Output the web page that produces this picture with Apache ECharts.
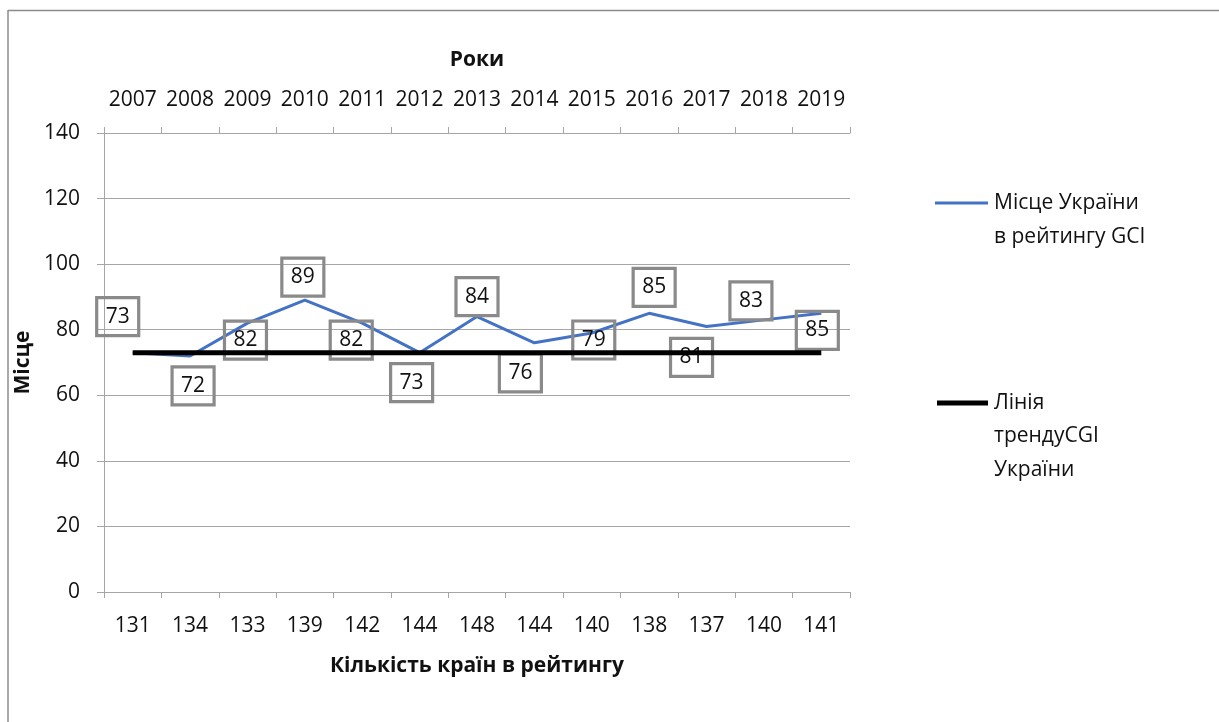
<!DOCTYPE html>
<html>
<head>
<meta charset="utf-8">
<script src="https://cdn.jsdelivr.net/npm/echarts@6/dist/echarts.min.js"></script>
<style>
  html, body { margin: 0; padding: 0; background: #fff; }
  #chart { width: 1219px; height: 722px; }
</style>
</head>
<body>
<div id="chart"></div>
<script>
// Years of the GCI rating (top axis)
const years = ['2007', '2008', '2009', '2010', '2011', '2012', '2013',
               '2014', '2015', '2016', '2017', '2018', '2019'];
// Number of countries in the rating (bottom axis)
const countryCounts = ['131', '134', '133', '139', '142', '144', '148',
                       '144', '140', '138', '137', '140', '141'];
// Ukraine's place in the GCI rating
const ukrainePlace = [73, 72, 82, 89, 82, 73, 84, 76, 79, 85, 81, 83, 85];
// Trend line level
const trendLevel = [73, 73, 73, 73, 73, 73, 73, 73, 73, 73, 73, 73, 73];
// Y axis ticks
const yTicks = [0, 20, 40, 60, 80, 100, 120, 140];

// Label box offsets from each point (px)
const labelOffsets = [[-15, -36], [3, 30], [-2, 17], [-2, -23], [-11, 17], [-8, 30],
                      [0, -20], [-14, 30], [2, 7], [5, -26], [-15, 31], [-13, -19], [-4, 17]];

const FONT = '"Open Sans", "Noto Sans", sans-serif';
const GRID = '#a6a6a6';
const TEXT = '#111';

const chart = echarts.init(document.getElementById('chart'), null, { renderer: 'canvas' });

const option = {
  backgroundColor: '#fff',
  animation: false,
  textStyle: { fontFamily: FONT },
  grid: { left: 104, right: 369, top: 133, bottom: 130 },
  xAxis: [
    {
      type: 'category',
      position: 'bottom',
      data: countryCounts,
      boundaryGap: true,
      name: 'Кількість країн в рейтингу',
      nameLocation: 'middle',
      nameGap: 64,
      nameTextStyle: { fontFamily: FONT, fontSize: 21, fontWeight: 'bold', color: TEXT },
      axisLine: { show: true, lineStyle: { color: GRID, width: 1 } },
      axisTick: { show: true, alignWithLabel: false, length: 6, lineStyle: { color: GRID } },
      axisLabel: { interval: 0, margin: 24, fontFamily: FONT, fontSize: 21, color: TEXT },
      splitLine: { show: false }
    },
    {
      type: 'category',
      position: 'top',
      data: years,
      boundaryGap: true,
      name: 'Роки',
      nameLocation: 'middle',
      nameGap: 62,
      nameTextStyle: { fontFamily: FONT, fontSize: 21, fontWeight: 'bold', color: TEXT },
      axisLine: { show: true, lineStyle: { color: GRID, width: 1 } },
      axisTick: { show: true, alignWithLabel: false, length: 6, lineStyle: { color: GRID } },
      axisLabel: { interval: 0, margin: 22, fontFamily: FONT, fontSize: 21, color: TEXT },
      splitLine: { show: false }
    }
  ],
  yAxis: {
    type: 'value',
    min: yTicks[0],
    max: yTicks[yTicks.length - 1],
    interval: yTicks[1] - yTicks[0],
    name: 'Місце',
    nameLocation: 'middle',
    nameGap: 63,
    nameRotate: 90,
    nameTextStyle: { fontFamily: FONT, fontSize: 21, fontWeight: 'bold', color: TEXT },
    axisLine: { show: true, lineStyle: { color: GRID, width: 1 } },
    axisTick: { show: true, length: 7, lineStyle: { color: GRID } },
    axisLabel: { margin: 24, fontFamily: FONT, fontSize: 21, color: TEXT },
    splitLine: { show: true, lineStyle: { color: GRID, width: 1 } }
  },
  series: [
    {
      name: 'Місце України в рейтингу GCI',
      type: 'line',
      xAxisIndex: 0,
      z: 2,
      data: ukrainePlace.map((v, i) => ({
        value: v,
        label: { offset: labelOffsets[i] }
      })),
      showSymbol: true,
      symbol: 'circle',
      symbolSize: 0.1,
      lineStyle: { color: '#4472C4', width: 3 },
      itemStyle: { color: '#4472C4' },
      label: {
        show: true,
        position: 'inside',
        fontFamily: FONT,
        fontSize: 21,
        color: TEXT,
        borderColor: '#8a8a8a',
        borderWidth: 1.6,
        backgroundColor: 'transparent',
        padding: [5, 9, 5, 9],
        lineHeight: 28
      }
    },
    {
      name: 'Лінія трендуCGI України',
      type: 'line',
      xAxisIndex: 0,
      z: 3,
      data: trendLevel,
      showSymbol: false,
      symbol: 'none',
      lineStyle: { color: '#000', width: 5 },
      itemStyle: { color: '#000' },
      label: { show: false }
    }
  ],
  graphic: [
    // chart frame
    { type: 'line', z: 100, shape: { x1: 8, y1: 10.5, x2: 1219, y2: 10.5 },
      style: { stroke: '#8c8c8c', lineWidth: 1.5 } },
    { type: 'line', z: 100, shape: { x1: 8, y1: 10, x2: 8, y2: 722 },
      style: { stroke: '#8c8c8c', lineWidth: 1.5 } },
    // legend
    { type: 'line', shape: { x1: 935, y1: 203, x2: 988, y2: 203 },
      style: { stroke: '#4472C4', lineWidth: 3 } },
    { type: 'text', left: 994, top: 186,
      style: { text: 'Місце України\nв рейтингу GCI', font: '21px ' + FONT,
               fill: TEXT, lineHeight: 34 } },
    { type: 'line', shape: { x1: 937, y1: 403, x2: 988, y2: 403 },
      style: { stroke: '#000', lineWidth: 5 } },
    { type: 'text', left: 994, top: 386,
      style: { text: 'Лінія\nтрендуCGI\nУкраїни', font: '21px ' + FONT,
               fill: TEXT, lineHeight: 33.5 } }
  ]
};

chart.setOption(option);
</script>
</body>
</html>
